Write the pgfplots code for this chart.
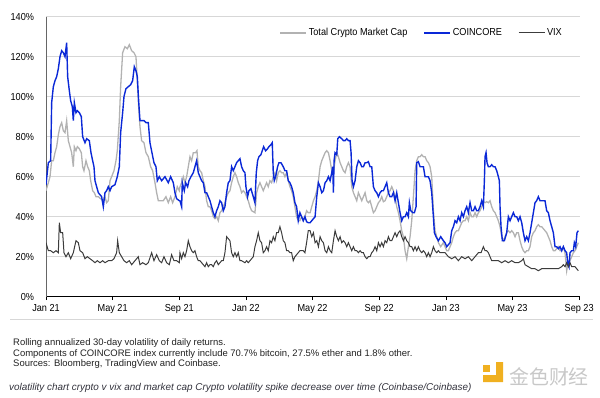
\documentclass[border=0pt]{standalone}
\usepackage{fontspec}
\setmainfont{Liberation Sans}
\newfontfamily\narrowfont{Liberation Sans}[FakeStretch=0.9]
\newfontfamily\cjk{Noto Sans CJK SC}
\usepackage{pgfplots}
\pgfplotsset{compat=1.18}
\definecolor{cblue}{RGB}{10,40,215}
\definecolor{cgray}{RGB}{178,178,178}
\definecolor{cvix}{RGB}{60,60,60}
\definecolor{gridc}{RGB}{215,215,215}
\definecolor{logoy}{RGB}{240,176,32}

\pgfplotstableread{
x y
0 53
0.14 57
0.24 60
0.34 68
0.44 68
0.54 72
0.64 75
0.74 81
0.84 85
0.94 87
1.04 83
1.14 82
1.24 88
1.34 78
1.44 75
1.54 72
1.64 65
1.7 75
1.8 73
1.88 75
2.0 74
2.12 72
2.2 65
2.28 63
2.4 68
2.5 65
2.6 63
2.68 58
2.8 53
2.9 52
3.0 50
3.14 50
3.28 49
3.4 48
3.54 50
3.64 47
3.74 48
3.84 58
3.94 60
4.08 63
4.2 68
4.28 73
4.4 88
4.48 105
4.6 122
4.74 125
4.88 124
5.0 126
5.14 123
5.28 122
5.4 120
5.48 108
5.56 95
5.64 85
5.74 78
5.88 77
6.0 72
6.14 70
6.28 65
6.4 63
6.54 57
6.64 52
6.74 48
6.88 48
7.04 48
7.2 50
7.34 47
7.48 50
7.6 47
7.74 50
7.88 55
8.0 53
8.04 55
8.14 57
8.24 60
8.34 57
8.44 60
8.54 65
8.64 70
8.74 68
8.84 72
8.98 72
9.06 73
9.14 65
9.24 63
9.34 62
9.44 58
9.54 55
9.64 48
9.74 45
9.84 45
9.94 43
10.04 40
10.14 39
10.24 40
10.34 38
10.44 42
10.54 43
10.64 45
10.74 47
10.84 50
10.94 52
11.04 53
11.14 57
11.24 60
11.34 62
11.44 60
11.54 57
11.64 55
11.74 52
11.84 53
11.94 52
12.04 50
12.14 48
12.24 45
12.34 43
12.44 42.5
12.54 42
12.64 52
12.74 55
12.84 57
12.94 55
13.04 53
13.14 55
13.24 57
13.34 55
13.44 58
13.54 57
13.64 60
13.74 62
13.84 58
13.94 62
14.04 63
14.14 62
14.24 62
14.34 60
14.44 62
14.54 58
14.64 55
14.74 53
14.84 50
14.94 45
15.04 40
15.14 38
15.24 38
15.34 40
15.44 38
15.54 40
15.64 43
15.74 42
15.85 42
15.95 45
16.05 48
16.15 50
16.25 53
16.35 58
16.45 65
16.55 68
16.65 70
16.75 72
16.85 73
16.95 72
17.05 68
17.15 63
17.25 62
17.35 68
17.45 72
17.55 70
17.65 67
17.75 65
17.85 63
17.95 62
18.05 65
18.15 67
18.25 65
18.35 55
18.45 52
18.55 50
18.65 48
18.75 52
18.85 50
18.95 48
19.05 50
19.15 52
19.25 48
19.35 47
19.45 48
19.55 45
19.65 42
19.75 43
19.85 45
19.95 47
20.05 48
20.15 50
20.25 47.5
20.35 48
20.45 50
20.55 52
20.65 53
20.75 55
20.85 53
20.95 50
21.05 45
21.15 42
21.25 38
21.35 33
21.45 30
21.55 23
21.65 19
21.75 25
21.85 30
21.95 38
22.05 50
22.15 63
22.25 68
22.35 70
22.45 70
22.55 71
22.65 70
22.75 70
22.85 68
22.95 67
23.05 65
23.15 60
23.25 43
23.35 33
23.45 30
23.55 27
23.69 25
23.85 27
23.95 25
24.05 23
24.15 23
24.25 25
24.35 27
24.45 30
24.55 32
24.65 33
24.75 33
24.85 35
24.95 37
25.05 38
25.15 38
25.25 40
25.35 38
25.45 42
25.55 40
25.65 40
25.75 42
25.85 40
25.95 42
26.05 43
26.15 45
26.25 47.5
26.35 47
26.45 47.5
26.55 47
26.65 48
26.75 45
26.85 43
26.95 42
27.05 40
27.15 38
27.25 35
27.35 30
27.45 28
27.55 30
27.65 32
27.75 33
27.85 32
27.95 33
28.05 32
28.15 30
28.25 32
28.35 32
28.45 28
28.55 25
28.65 23
28.75 22
28.85 23
28.95 23
29.05 25
29.15 30
29.25 32
29.35 33
29.45 35
29.55 36
29.65 35
29.75 35
29.85 34
29.95 33
30.05 32
30.15 30
30.25 28
30.35 25
30.45 23
30.55 23
30.75 25
30.85 23
30.95 23
31.05 25
31.15 22
31.25 13
31.35 18
31.45 18
31.55 20
31.65 22
31.75 23
31.85 25
31.95 27
}\tmc

\pgfplotstableread{
x y
0 56
0.14 67
0.28 68
0.34 97
0.44 105
0.54 108
0.64 110
0.74 114
0.84 120
0.94 123
1.04 122
1.14 120
1.24 127
1.3 110
1.4 103
1.48 98
1.58 95
1.64 88
1.7 97
1.8 92
1.88 93
2.0 92
2.12 90
2.2 80
2.34 77
2.44 79
2.6 78
2.7 72
2.8 68
2.88 65
2.94 58
3.04 55
3.14 52
3.24 51
3.34 50
3.44 45
3.54 52
3.64 53
3.74 55
3.84 53
3.94 55
4.14 56
4.28 60
4.4 65
4.48 82
4.6 92
4.68 100
4.8 104
4.94 105
5.08 106
5.2 108
5.3 115
5.4 113
5.48 110
5.56 98
5.64 88
5.74 88
5.88 88
6.0 87
6.14 87
6.24 77
6.36 72
6.48 67
6.6 65
6.68 58
6.8 60
6.94 58
7.14 60
7.34 57
7.48 60
7.64 57
7.74 52
7.84 49
8.0 48
8.04 48
8.14 45
8.18 57
8.3 53
8.38 57
8.5 55
8.58 58
8.7 60
8.84 62
8.94 65
9.04 68
9.14 62
9.24 60
9.34 58
9.44 57
9.54 52
9.64 52
9.74 50
9.84 48
9.94 45
10.04 42
10.14 40
10.24 43
10.34 45
10.44 48
10.54 47
10.64 43
10.74 45
10.84 52
10.94 57
11.04 58
11.14 65
11.24 63
11.34 65
11.44 67
11.54 68
11.64 69
11.74 65
11.84 63
11.94 62
12.0 55
12.1 50
12.18 53
12.3 54
12.44 50
12.54 47
12.62 62
12.7 68
12.78 70
12.9 71
12.98 73
13.06 75
13.18 73
13.3 74
13.38 75
13.5 76
13.58 77
13.64 62
13.7 58
13.78 60
13.9 65
13.98 67
14.1 67
14.24 65
14.34 63
14.44 63
14.54 58
14.64 57
14.74 55
14.84 52
14.94 47
15.04 45
15.14 38
15.24 42
15.34 40
15.44 38
15.54 40
15.64 37.5
15.74 37
15.85 37
15.95 38
16.15 40
16.25 50
16.35 57
16.45 55
16.55 52
16.65 53
16.75 57
16.85 58
16.95 60
17.05 58
17.15 62
17.21 65
17.25 52
17.29 68
17.35 72
17.45 71
17.51 79
17.61 80
17.75 79
17.85 78
17.95 78
18.05 79
18.15 78
18.25 78
18.31 72
18.37 58
18.45 55
18.55 58
18.65 65
18.75 68
18.85 67
18.95 65
19.05 65
19.15 67
19.25 67
19.35 67.5
19.45 65
19.55 65
19.65 55
19.75 53
19.85 52
19.95 50
20.05 52
20.15 53
20.25 53
20.35 55
20.45 57
20.55 52
20.65 50
20.75 50
20.85 52
20.95 48
21.05 52
21.15 47
21.25 42
21.35 38
21.45 40
21.55 40
21.65 42
21.75 40
21.81 47
21.89 43
22.01 42
22.11 42
22.21 45
22.25 67
22.35 67.5
22.45 65
22.55 65
22.65 65
22.75 60
22.85 60
22.95 60
23.05 58
23.15 52
23.25 40
23.31 32
23.41 30
23.55 28
23.69 30
23.85 28
23.95 27
24.05 25
24.15 26
24.25 27
24.35 33
24.45 35
24.55 38
24.65 37
24.75 40
24.85 38
24.95 42
25.05 40
25.15 43
25.25 45
25.35 42
25.45 47
25.55 43
25.65 43
25.75 45
25.85 43
25.95 43
26.05 45
26.15 48
26.25 45
26.31 58
26.35 70
26.41 72
26.47 67
26.55 65
26.65 65
26.75 66
26.85 65
26.95 65
27.05 63
27.15 60
27.21 58
27.25 45
27.31 35
27.39 28
27.51 28
27.65 32
27.75 40
27.85 38
27.95 40
28.05 42
28.15 40
28.25 40
28.35 38
28.45 40
28.55 37
28.65 32
28.75 28
28.85 30
28.95 28
29.05 32
29.15 37
29.25 42
29.35 47
29.45 48
29.55 50
29.65 48
29.75 48
29.85 48
29.95 48
30.05 43
30.15 42
30.25 38
30.35 35
30.45 32
30.55 25
30.65 25
30.75 24
30.85 25
30.95 23
31.05 25
31.15 23
31.25 22
31.31 17
31.39 15
31.45 22
31.55 23
31.65 23
31.71 27
31.79 25
31.87 32
31.95 33
}\coin

\pgfplotstableread{
x y
0 27
0.14 23
0.28 23
0.44 22
0.6 23
0.74 22
0.8 37
0.88 32
1.0 32
1.08 22
1.2 20
1.34 22
1.48 19
1.64 22
1.8 28
1.94 27
2.04 23
2.2 22
2.34 19
2.48 20
2.64 19
2.8 18
2.94 17
3.08 18
3.24 17
3.4 18
3.54 17
3.74 18
3.94 18
4.08 19
4.24 22
4.3 28
4.4 22
4.54 20
4.68 18
4.84 17
5.0 18
5.14 16
5.34 18
5.54 20
5.64 16
5.8 17
6.0 16
6.14 17
6.34 22
6.48 18
6.64 21
6.8 18
6.94 17
7.08 20
7.24 17
7.4 16
7.54 21
7.68 18
7.84 18
8.0 17
8.04 22
8.14 19
8.24 22
8.34 20
8.44 23
8.54 28
8.64 25
8.74 23
8.84 22
8.94 23
9.04 20
9.14 18
9.24 18
9.34 17
9.44 16
9.54 15
9.64 17
9.74 15
9.84 16
9.94 16
10.04 15
10.14 17
10.24 18
10.34 16
10.44 17
10.54 18
10.64 18
10.74 22
10.84 30
10.94 29
11.04 28
11.14 22
11.24 20
11.34 22
11.44 20
11.54 22
11.64 18
11.74 18
11.94 17
12.04 18
12.14 17
12.24 18
12.34 19
12.44 20
12.54 25
12.64 28
12.74 32
12.84 28
12.94 27
13.04 22
13.14 23
13.24 25
13.34 23
13.44 28
13.54 27
13.64 30
13.74 28
13.84 32
13.94 32
14.04 35
14.14 32
14.24 28
14.34 27
14.44 23
14.54 23
14.64 22
14.74 22
14.84 18
14.94 20
15.04 21
15.14 22
15.24 23
15.34 23
15.44 23
15.54 22
15.64 27
15.74 33
15.85 33
15.95 30
16.05 32
16.15 27
16.25 28
16.35 25
16.45 30
16.55 28
16.65 27
16.75 23
16.85 22
16.95 25
17.05 23
17.15 22
17.25 28
17.35 33
17.45 30
17.55 28
17.65 30
17.75 27
17.85 28
17.95 27
18.05 25
18.15 27
18.25 25
18.35 23
18.45 25
18.55 23
18.65 23
18.75 22
18.85 23
18.95 22
19.05 22
19.15 20
19.25 19
19.35 20
19.45 20
19.55 22
19.65 23
19.75 25
19.85 23
19.95 27
20.05 25
20.15 27
20.25 25
20.35 28
20.45 27
20.55 30
20.65 28
20.75 28
20.85 30
20.95 32
21.05 30
21.15 32
21.25 33
21.35 30
21.45 28
21.55 30
21.65 28
21.75 27
21.85 25
21.95 25
22.05 23
22.15 25
22.25 23
22.35 25
22.45 23
22.55 22
22.65 23
22.75 22
22.85 20
22.95 22
23.05 20
23.15 22
23.25 25
23.35 23
23.45 22
23.55 23
23.65 22
23.85 22
23.95 22
24.15 20
24.35 19
24.55 20
24.75 18
24.95 20
25.15 19
25.35 20
25.55 18
25.75 20
25.95 22
26.11 22
26.25 25
26.35 23
26.45 23
26.55 22
26.65 20
26.75 18
26.95 18
27.15 18
27.35 17
27.55 18
27.75 17
27.95 18
28.15 17
28.35 17
28.55 18
28.65 19
28.75 16
28.95 15
29.15 14
29.35 14
29.55 13
29.75 14
29.95 14
30.15 14
30.35 14
30.55 14
30.75 14
30.95 15
31.05 16
31.15 15
31.25 17
31.35 15
31.45 17
31.55 15
31.65 15
31.75 15
31.85 14
31.95 13
}\vix

\begin{document}
\begin{tikzpicture}[x=1bp,y=1bp]
\path[use as bounding box] (0,0) rectangle (600,397);
\begin{axis}[
  at={(46bp,100.3bp)}, anchor=south west,
  scale only axis, width=534bp, height=280bp,
  xmin=0, xmax=32.05, ymin=0, ymax=140,
  axis x line*=bottom, axis y line*=left,
  x axis line style={black, line width=0.8bp, -},
  y axis line style={gray!80!black, line width=0.8bp, -},
  xtick={0,4,...,32},
  xticklabels={Jan 21,May 21,Sep 21,Jan 22,May 22,Sep 22,Jan 23,May 23,Sep 23},
  ytick={0,20,...,140},
  yticklabels={0\%,20\%,40\%,60\%,80\%,100\%,120\%,140\%},
  ymajorgrids, grid style={gridc, line width=0.8bp},
  tick align=outside, major tick length=3.5bp,
  xtick style={black, line width=0.7bp},
  ytick style={draw=none},
  /pgf/number format/assume math mode=true,
  tick label style={font=\narrowfont\fontsize{10.2}{12}\selectfont, text=black},
  xticklabel style={yshift=-1bp},
  yticklabel style={xshift=-5bp},
  legend style={at={(0.97,0.942)}, anchor=east, draw=none, fill=none,
    font=\narrowfont\fontsize{10.2}{12}\selectfont, legend columns=3,
    /tikz/every even column/.append style={column sep=14bp},
    inner sep=0pt},
  legend image code/.code={\draw[#1] (0bp,0bp) -- (26bp,0bp);},
  legend cell align=left,
]
\addplot[cgray, line width=1.3bp] table {\tmc};
\addlegendentry{Total Crypto Market Cap}
\addplot[cblue, line width=1.4bp] table {\coin};
\addlegendentry{COINCORE}
\addplot[cvix, line width=1bp] table {\vix};
\addlegendentry{VIX}
\end{axis}
\draw[gridc, line width=0.8bp] (10,77.7) -- (593,77.7);
\begin{scope}[every node/.style={inner sep=0pt, anchor=base west, font=\fontsize{9.5}{11}\selectfont, text={rgb,255:red,34;green,34;blue,34}}]
\node at (13,51.5) {Rolling annualized 30-day volatility of daily returns.};
\node at (13,41) {Components of COINCORE index currently include 70.7\% bitcoin, 27.5\% ether and 1.8\% other.};
\node at (13,30.5) {Sources: Bloomberg, TradingView and Coinbase.};
\end{scope}
\node[inner sep=0pt, anchor=base west, font=\itshape\fontsize{9.95}{11}\selectfont, text={rgb,255:red,50;green,50;blue,60}] at (9,7) {volatility chart crypto v vix and market cap Crypto volatility spike decrease over time (Coinbase/Coinbase)};
\fill[logoy] (483,25) rectangle (490,32);
\fill[logoy] (496,15) -- (503,15) -- (503,35) -- (496,35) -- (496,22) -- (483,22) -- (483,15) -- cycle;
\node[inner sep=0pt, anchor=west, font=\cjk\fontsize{20}{21}\selectfont, text={rgb,255:red,200;green,200;blue,200}] at (509,20) {金色财经};
\end{tikzpicture}
\end{document}
